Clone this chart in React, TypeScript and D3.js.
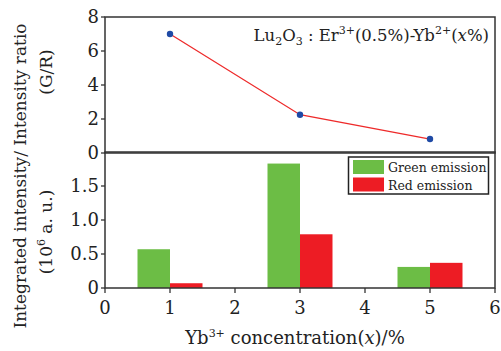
import React from "react";
import * as d3 from "d3";

const concentrations = [1, 3, 5];
const ratioGR = [7.0, 2.25, 0.82];
const greenEmission = [0.57, 1.83, 0.31];
const redEmission = [0.07, 0.79, 0.37];
const xTicks = [0, 1, 2, 3, 4, 5, 6];
const topYTicks = [0, 2, 4, 6, 8];
const bottomYTicks = [0, 0.5, 1.0, 1.5];
const bottomYTickLabels = ["0", "0.5", "1.0", "1.5"];

const W = 501;
const H = 351;
const left = 105;
const right = 495;
const topT = 17;
const topB = 153;
const botT = 152;
const botB = 288;

const axisColor = "#333";
const font = "DejaVu Serif, Noto Serif, Liberation Serif, serif";

export default function App() {
  const x = d3.scaleLinear().domain([0, 6]).range([left, right]);
  const yTop = d3.scaleLinear().domain([0, 8]).range([topB, topT]);
  const yBot = d3.scaleLinear().domain([0, 2]).range([botB, botT]);
  const line = d3
    .line<number>()
    .x((_, i) => x(concentrations[i]))
    .y((d) => yTop(d));
  const bw = x(0.5) - x(0);

  return (
    <svg
      width={W}
      height={H}
      style={{ position: "absolute", left: 0, top: 0, background: "#fff", fontFamily: font }}
    >
      <rect width={W} height={H} fill="#fff" />
      {concentrations.map((c, i) => (
        <g key={"b" + c}>
          <rect
            x={x(c) - bw}
            y={yBot(greenEmission[i])}
            width={bw}
            height={yBot(0) - yBot(greenEmission[i])}
            fill="#6cbd45"
          />
          <rect
            x={x(c)}
            y={yBot(redEmission[i])}
            width={bw}
            height={yBot(0) - yBot(redEmission[i])}
            fill="#ed1c24"
          />
        </g>
      ))}
      <path d={line(ratioGR) || ""} fill="none" stroke="#ee2a2a" strokeWidth={1.3} />
      {ratioGR.map((v, i) => (
        <circle key={"p" + i} cx={x(concentrations[i])} cy={yTop(v)} r={3.2} fill="#1f4aa5" />
      ))}
      <rect x={left} y={topT} width={right - left} height={topB - topT} fill="none" stroke={axisColor} strokeWidth={1.5} />
      <rect x={left} y={botT} width={right - left} height={botB - botT} fill="none" stroke={axisColor} strokeWidth={1.5} />
      {topYTicks.map((t) => (
        <g key={"ty" + t}>
          <line x1={left - 4} x2={left} y1={yTop(t)} y2={yTop(t)} stroke={axisColor} strokeWidth={1.3} />
          <text x={left - 6} y={yTop(t)} dy="0.35em" textAnchor="end" fontSize={18} fill="#222">
            {t}
          </text>
        </g>
      ))}
      {bottomYTicks.map((t, i) => (
        <g key={"by" + t}>
          <line x1={left - 4} x2={left} y1={yBot(t)} y2={yBot(t)} stroke={axisColor} strokeWidth={1.3} />
          <text x={left - 6} y={yBot(t)} dy="0.35em" textAnchor="end" fontSize={18} fill="#222">
            {bottomYTickLabels[i]}
          </text>
        </g>
      ))}
      {xTicks.map((t) => (
        <g key={"x" + t}>
          <line x1={x(t)} x2={x(t)} y1={botB} y2={botB + 5} stroke={axisColor} strokeWidth={1.3} />
          <text x={x(t)} y={314} textAnchor="middle" fontSize={18} fill="#222">
            {t}
          </text>
        </g>
      ))}
      <text x={295} y={344} textAnchor="middle" fontSize={18} fill="#222">
        Yb<tspan dy={-7} fontSize={11}>3+</tspan>
        <tspan dy={7}> concentration(</tspan>
        <tspan fontStyle="italic">x</tspan>
        <tspan>)/%</tspan>
      </text>
      <text transform={`translate(26,176) rotate(-90)`} textAnchor="middle" fontSize={17} fill="#222">
        Integrated intensity/ Intensity ratio
      </text>
      <text transform={`translate(52,72) rotate(-90)`} textAnchor="middle" fontSize={17} fill="#222">
        (G/R)
      </text>
      <text transform={`translate(52,232) rotate(-90)`} textAnchor="middle" fontSize={17} fill="#222">
        (10<tspan dy={-7} fontSize={11}>6</tspan>
        <tspan dy={7}> a. u.)</tspan>
      </text>
      <text x={489} y={41} textAnchor="end" fontSize={16.5} fill="#222">
        Lu<tspan dy={4} fontSize={11}>2</tspan>
        <tspan dy={-4}>O</tspan>
        <tspan dy={4} fontSize={11}>3</tspan>
        <tspan dy={-4}> : Er</tspan>
        <tspan dy={-7} fontSize={11}>3+</tspan>
        <tspan dy={7}>(0.5%)-Yb</tspan>
        <tspan dy={-7} fontSize={11}>2+</tspan>
        <tspan dy={7}>(</tspan>
        <tspan fontStyle="italic">x</tspan>
        <tspan>%)</tspan>
      </text>
      <rect x={348.5} y={157} width={140} height={37} fill="#fff" stroke="#222" strokeWidth={1.5} />
      <rect x={353} y={160} width={31} height={14} fill="#6cbd45" />
      <rect x={353} y={177.5} width={31} height={14} fill="#ed1c24" />
      <text x={388} y={172} fontSize={12.5} fill="#222">Green emission</text>
      <text x={388} y={190} fontSize={12.5} fill="#222">Red emission</text>
    </svg>
  );
}
